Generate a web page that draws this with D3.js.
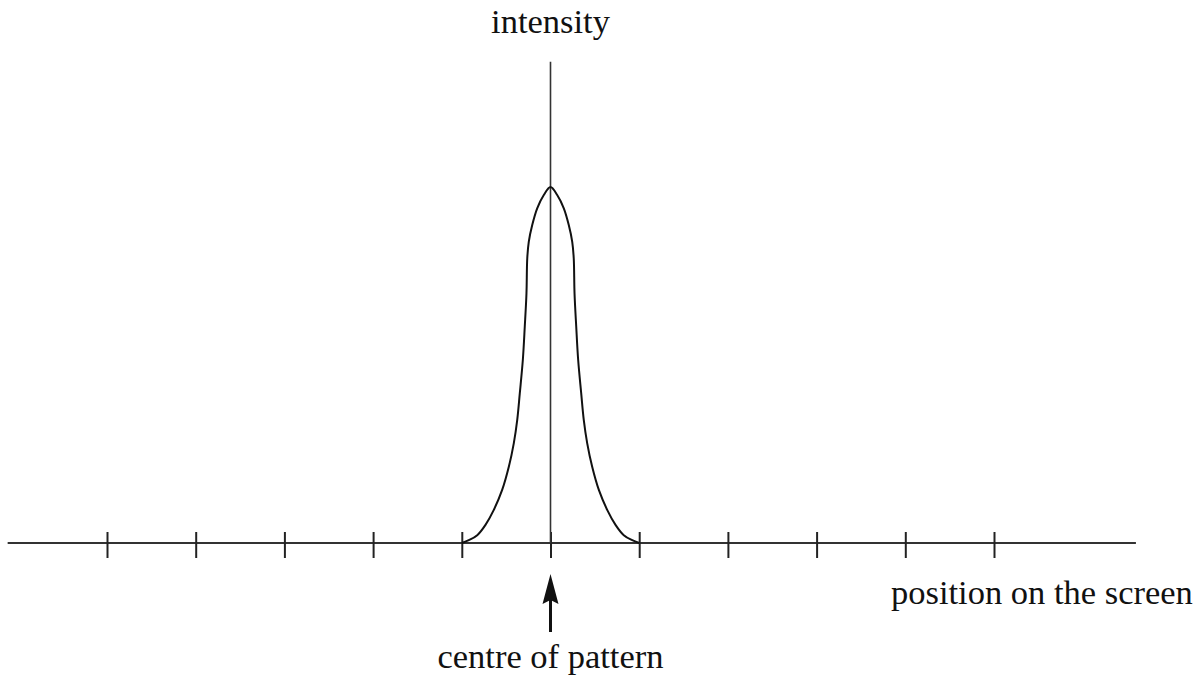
<!DOCTYPE html>
<html>
<head>
<meta charset="utf-8">
<script src="https://cdn.jsdelivr.net/npm/d3@7"></script>
<style>
  body { margin: 0; background: #fff; }
  text { font-family: "Liberation Serif", "DejaVu Serif", serif; fill: #111; }
</style>
</head>
<body>
<div id="chart"></div>
<script>
// tick positions along the screen (in fringe spacings)
var tickValues = [-5, -4, -3, -2, -1, 0, 1, 2, 3, 4, 5];

// intensity profile (relative to peak)
var curveX = [-1, -0.921, -0.826, -0.733, -0.639, -0.545, -0.470, -0.414, -0.375, -0.346, -0.312, -0.290, -0.271, -0.262, -0.245, -0.206, -0.150, -0.0755, 0,
              0.0755, 0.150, 0.206, 0.245, 0.262, 0.271, 0.290, 0.312, 0.346, 0.375, 0.414, 0.470, 0.545, 0.639, 0.733, 0.826, 0.921, 1];
var curveY = [0, 0.008, 0.022, 0.051, 0.093, 0.149, 0.214, 0.280, 0.346, 0.421, 0.514, 0.608, 0.701, 0.800, 0.846, 0.893, 0.940, 0.9775, 1,
              0.9775, 0.940, 0.893, 0.846, 0.800, 0.701, 0.608, 0.514, 0.421, 0.346, 0.280, 0.214, 0.149, 0.093, 0.051, 0.022, 0.008, 0];

var xLabel = "position on the screen";
var yLabel = "intensity";
var arrowLabel = "centre of pattern";

var width = 1203, height = 678;

var svg = d3.select("#chart")
  .append("svg")
  .attr("width", width)
  .attr("height", height);

var x = d3.scaleLinear().domain([-5, 5]).range([107, 994]);
var y = d3.scaleLinear().domain([0, 1]).range([543, 187]);

// horizontal axis line
svg.append("line")
  .attr("x1", x(-6.12)).attr("x2", x(6.6))
  .attr("y1", y(0)).attr("y2", y(0))
  .attr("stroke", "#333").attr("stroke-width", 2);

// ticks crossing the axis
var axis = svg.append("g")
  .attr("transform", "translate(0," + (y(0) - 11) + ")")
  .call(d3.axisBottom(x).tickValues(tickValues).tickSize(26).tickFormat(""));
axis.select(".domain").remove();
axis.selectAll(".tick line").attr("stroke", "#222").attr("stroke-width", 2);

// vertical intensity axis
svg.append("line")
  .attr("x1", x(0)).attr("x2", x(0))
  .attr("y1", y(1.352)).attr("y2", y(0))
  .attr("stroke", "#333").attr("stroke-width", 1.6);

// curve
var pts = curveX.map(function(d, i){ return [d, curveY[i]]; });
var line = d3.line()
  .x(function(d){ return x(d[0]); })
  .y(function(d){ return y(d[1]); })
  .curve(d3.curveCatmullRom.alpha(0.5));

svg.append("path")
  .datum(pts)
  .attr("d", line)
  .attr("fill", "none")
  .attr("stroke", "#111")
  .attr("stroke-width", 2);

// labels
svg.append("text")
  .attr("x", x(0)).attr("y", 33)
  .attr("text-anchor", "middle")
  .attr("font-size", 34.5)
  .text(yLabel);

svg.append("text")
  .attr("x", 891).attr("y", 604)
  .attr("font-size", 34.5)
  .text(xLabel);

svg.append("text")
  .attr("x", x(0)).attr("y", 668)
  .attr("text-anchor", "middle")
  .attr("font-size", 34.5)
  .text(arrowLabel);

// arrow pointing at centre
svg.append("line")
  .attr("x1", x(0)).attr("x2", x(0))
  .attr("y1", 632).attr("y2", 600)
  .attr("stroke", "#111").attr("stroke-width", 3);
svg.append("path")
  .attr("d", "M" + x(0) + ",574 L" + (x(0) - 8) + ",604 L" + x(0) + ",600 L" + (x(0) + 8) + ",604 Z")
  .attr("fill", "#111");
</script>
</body>
</html>
